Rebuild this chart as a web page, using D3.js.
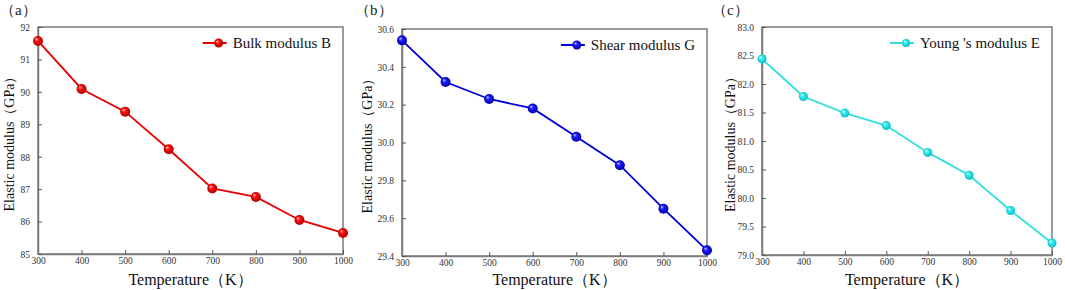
<!DOCTYPE html>
<html>
<head>
<meta charset="utf-8">
<script src="https://cdn.jsdelivr.net/npm/d3@7"></script>
<style>
  body { margin: 0; background: #fff; }
  svg text { font-family: "Liberation Serif", "Times New Roman", serif; }
  .tick text { fill: #333; font-size: 9.5px; }
</style>
</head>
<body>
<svg id="fig" width="1065" height="290"></svg>
<script>
// data
const temperature = [300, 400, 500, 600, 700, 800, 900, 1000];
const bulkModulus = [91.57, 90.09, 89.39, 88.23, 87.02, 86.76, 86.05, 85.65];
const shearModulus = [30.54, 30.32, 30.23, 30.18, 30.03, 29.88, 29.65, 29.43];
const youngModulus = [82.44, 81.78, 81.49, 81.27, 80.80, 80.40, 79.78, 79.21];
const xTicks = [300, 400, 500, 600, 700, 800, 900, 1000];
const bulkTicks = [85, 86, 87, 88, 89, 90, 91, 92];
const shearTicks = [29.4, 29.6, 29.8, 30.0, 30.2, 30.4, 30.6];
const youngTicks = [79.0, 79.5, 80.0, 80.5, 81.0, 81.5, 82.0, 82.5, 83.0];

const svg = d3.select('#fig');
const defs = svg.append('defs');

function sphereGrad(id, light, mid, dark) {
    let g = defs.append('radialGradient').attr('id', id)
        .attr('cx', '50%').attr('cy', '50%').attr('r', '55%')
        .attr('fx', '32%').attr('fy', '30%');
    g.append('stop').attr('offset', '0%').attr('stop-color', light);
    g.append('stop').attr('offset', '35%').attr('stop-color', mid);
    g.append('stop').attr('offset', '100%').attr('stop-color', dark);
}
sphereGrad('gRed', '#ffd0d0', '#ff1010', '#a00000');
sphereGrad('gBlue', '#d0d0ff', '#1a1aff', '#0000a0');
sphereGrad('gCyan', '#e8ffff', '#30f0f0', '#10b0c0');

const panels = [
    { tag: '（a）', tagX: 0, left: 38, right: 343, top: 27, bottom: 254, ylabX: 9,
      values: bulkModulus, yTicks: bulkTicks, yDomain: [85, 92], fmt: d3.format('d'),
      color: '#e80000', grad: 'gRed', legend: 'Bulk modulus B', r: 5 },
    { tag: '（b）', tagX: 355, left: 402, right: 707, top: 29, bottom: 256, ylabX: 367,
      values: shearModulus, yTicks: shearTicks, yDomain: [29.4, 30.6], fmt: d3.format('.1f'),
      color: '#0000d8', grad: 'gBlue', legend: 'Shear modulus G', r: 5 },
    { tag: '（c）', tagX: 712, left: 762, right: 1052, top: 27, bottom: 255, ylabX: 730,
      values: youngModulus, yTicks: youngTicks, yDomain: [79, 83], fmt: d3.format('.1f'),
      color: '#30e0e0', grad: 'gCyan', legend: 'Young \'s modulus E', r: 4.5 }
];

panels.forEach(p => {
    let g = svg.append('g');
    let x = d3.scaleLinear().domain([300, 1000]).range([p.left, p.right]);
    let y = d3.scaleLinear().domain(p.yDomain).range([p.bottom, p.top]);

    // frame
    g.append('rect').attr('x', p.left).attr('y', p.top)
        .attr('width', p.right - p.left).attr('height', p.bottom - p.top)
        .attr('fill', 'none').attr('stroke', '#7a7a7a').attr('stroke-width', 1.5);

    let xAxis = d3.axisBottom(x).tickValues(xTicks).tickFormat(d3.format('d'))
        .tickSize(-4).tickPadding(4).tickSizeOuter(0);
    let xg = g.append('g').attr('transform', `translate(0,${p.bottom})`).call(xAxis);
    let yAxis = d3.axisLeft(y).tickValues(p.yTicks).tickFormat(p.fmt).tickSize(-4).tickPadding(8).tickSizeOuter(0);
    let yg = g.append('g').attr('transform', `translate(${p.left},0)`).call(yAxis);
    [xg, yg].forEach(a => {
        a.select('.domain').attr('stroke', '#7a7a7a').attr('stroke-width', 1.5);
        a.selectAll('.tick line').attr('stroke', '#555').attr('stroke-width', 1);
        a.selectAll('.tick text').attr('font-family', null).attr('font-size', null);
    });
    xg.selectAll('.tick text').attr('dy', '0.6em');
    yg.selectAll('.tick text').attr('dy', '0.35em');

    // series line
    let line = d3.line().x((d, i) => x(temperature[i])).y(d => y(d));
    g.append('path').datum(p.values).attr('d', line)
        .attr('fill', 'none').attr('stroke', p.color).attr('stroke-width', 1.8);
    g.selectAll('circle.pt').data(p.values).enter().append('circle')
        .attr('class', 'pt')
        .attr('cx', (d, i) => x(temperature[i])).attr('cy', d => y(d))
        .attr('r', p.r).attr('fill', `url(#${p.grad})`);

    // legend
    let lx = p.right - 12, ly = p.top + 16;
    let lt = g.append('text').attr('x', lx).attr('y', ly + 5)
        .attr('text-anchor', 'end').attr('font-size', 15).attr('fill', '#111').text(p.legend);
    let tw = lt.node().getComputedTextLength();
    let sx = lx - tw - 6;
    g.append('line').attr('x1', sx - 24).attr('x2', sx).attr('y1', ly).attr('y2', ly)
        .attr('stroke', p.color).attr('stroke-width', 2);
    g.append('circle').attr('cx', sx - 8).attr('cy', ly).attr('r', p.r - 0.5)
        .attr('fill', `url(#${p.grad})`);

    // labels
    g.append('text').attr('x', p.tagX).attr('y', 15).attr('font-size', 15).attr('fill', '#222').text(p.tag);
    g.append('text').attr('x', (p.left + p.right) / 2).attr('y', 285)
        .attr('text-anchor', 'middle').attr('font-size', 16).attr('fill', '#111').text('Temperature（K）');
    g.append('text').attr('transform', `translate(${p.ylabX + 5},${(p.top + p.bottom) / 2}) rotate(-90)`)
        .attr('text-anchor', 'middle').attr('font-size', 14).attr('fill', '#111').text('Elastic modulus（GPa）');
});
</script>
</body>
</html>
